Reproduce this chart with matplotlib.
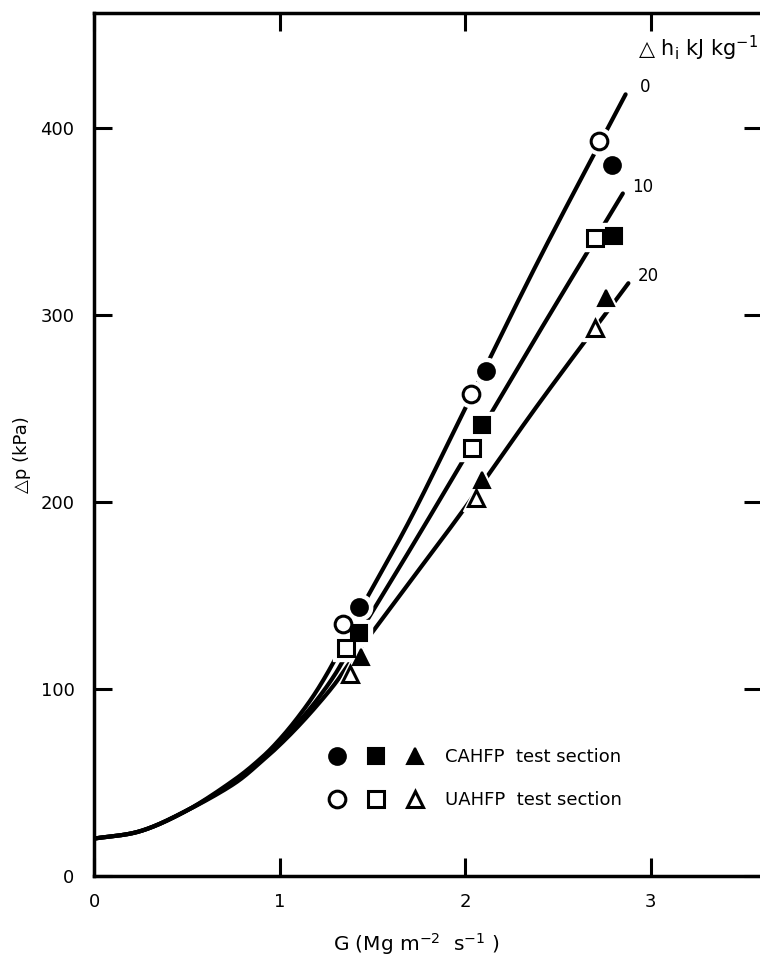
import numpy as np
import matplotlib
matplotlib.use("Agg")
import matplotlib.pyplot as plt
from matplotlib.legend_handler import HandlerTuple

plt.rcParams['font.family'] = ['DejaVu Sans']
plt.rcParams['mathtext.default'] = 'regular'

# ---- data ----
enthalpy_labels = ["0", "10", "20"]

# fitted curves (G in Mg m^-2 s^-1, dp in kPa)
curve_G_0 = [0, 0.25, 0.5, 0.75, 0.9, 1.0, 1.1, 1.2, 1.3, 1.4, 1.7, 2.0, 2.4, 2.865]
curve_dp_0 = [20, 24, 35, 51, 63, 73, 85, 99, 116, 136, 190, 250, 330, 418]
curve_G_10 = [0, 0.25, 0.5, 0.75, 0.9, 1.0, 1.1, 1.2, 1.3, 1.4, 1.7, 2.0, 2.4, 2.85]
curve_dp_10 = [20, 24, 35, 50, 62, 71, 82, 94, 108, 125, 174, 224, 291, 365]
curve_G_20 = [0, 0.25, 0.5, 0.75, 0.9, 1.0, 1.1, 1.2, 1.3, 1.4, 1.7, 2.0, 2.4, 2.88]
curve_dp_20 = [20, 24, 35, 49, 61, 70, 80, 91, 103, 117, 157, 197, 253, 317]

# CAHFP test section (filled markers)
cahfp_G_0 = [1.43, 2.11, 2.79]
cahfp_dp_0 = [144, 270, 380]
cahfp_G_10 = [1.43, 2.09, 2.80]
cahfp_dp_10 = [130, 241, 342]
cahfp_G_20 = [1.44, 2.09, 2.76]
cahfp_dp_20 = [117, 212, 309]

# UAHFP test section (open markers)
uahfp_G_0 = [1.34, 2.03, 2.72]
uahfp_dp_0 = [135, 258, 393]
uahfp_G_10 = [1.36, 2.035, 2.70]
uahfp_dp_10 = [122, 229, 341]
uahfp_G_20 = [1.38, 2.06, 2.70]
uahfp_dp_20 = [108, 202, 293]

x_ticks = [0, 1, 2, 3]
y_ticks = [0, 100, 200, 300, 400]
legend_labels = ["CAHFP  test section", "UAHFP  test section"]


def smooth(xs, ys, n=30):
    p = np.column_stack([xs, ys]).astype(float)
    m = np.zeros_like(p)
    m[1:-1] = (p[2:] - p[:-2]) / 2.0
    m[0] = p[1] - p[0]
    m[-1] = p[-1] - p[-2]
    out = []
    t = np.linspace(0, 1, n)
    h00 = 2 * t**3 - 3 * t**2 + 1
    h10 = t**3 - 2 * t**2 + t
    h01 = -2 * t**3 + 3 * t**2
    h11 = t**3 - t**2
    for i in range(len(p) - 1):
        seg = (h00[:, None] * p[i] + h10[:, None] * m[i]
               + h01[:, None] * p[i + 1] + h11[:, None] * m[i + 1])
        out.append(seg if i == 0 else seg[1:])
    out = np.vstack(out)
    return out[:, 0], out[:, 1]


fig = plt.figure(figsize=(7.6, 9.65), dpi=100)
L, R, B, T = 94, 762, 876, 13
ax = fig.add_axes([L / 760, (965 - B) / 965, (R - L) / 760, (B - T) / 965])
ax.set_xlim(0, 3.6)
ax.set_ylim(0, 461.5)

curves = [(curve_G_0, curve_dp_0), (curve_G_10, curve_dp_10), (curve_G_20, curve_dp_20)]
for (g, d), lab in zip(curves, enthalpy_labels):
    xs, ys = smooth(g, d)
    ax.plot(xs, ys, color='black', lw=3.0, solid_capstyle='round', zorder=2)
    ax.annotate(lab, xy=(g[-1], d[-1]), xytext=(14, 5), textcoords='offset points',
                ha='center', va='center', fontsize=12)

ms = 12
filled = [(cahfp_G_0, cahfp_dp_0, 'o'), (cahfp_G_10, cahfp_dp_10, 's'), (cahfp_G_20, cahfp_dp_20, '^')]
opened = [(uahfp_G_0, uahfp_dp_0, 'o'), (uahfp_G_10, uahfp_dp_10, 's'), (uahfp_G_20, uahfp_dp_20, '^')]
for g, d, mk in filled + opened:
    ax.plot(g, d, ls='none', marker=mk, ms=ms + 7, mfc='white', mec='white', zorder=3)
handles_f = []
handles_o = []
for g, d, mk in filled:
    h, = ax.plot(g, d, ls='none', marker=mk, ms=ms, mfc='black', mec='black', mew=1.5, zorder=4)
    handles_f.append(h)
for g, d, mk in opened:
    h, = ax.plot(g, d, ls='none', marker=mk, ms=ms, mfc='white', mec='black', mew=2.2, zorder=5)
    handles_o.append(h)

ax.set_xticks(x_ticks)
ax.set_xticklabels([str(v) for v in x_ticks])
ax.set_yticks(y_ticks)
ax.set_yticklabels([str(v) for v in y_ticks])
ax.tick_params(axis='both', direction='in', length=13, width=2.2, labelsize=13,
               top=True, right=True, labeltop=False, labelright=False)
ax.tick_params(axis='x', pad=12)
ax.tick_params(axis='y', pad=14)
for s in ['left', 'bottom', 'top', 'right']:
    ax.spines[s].set_linewidth(2.5)

fig.text(22 / 760, 1 - 455 / 965, "\u25b3p (kPa)", rotation=90, ha='center', va='center', fontsize=13)
fig.text(416 / 760, 1 - 944 / 965, "G (Mg m$^{-2}$  s$^{-1}$ )", ha='center', va='center', fontsize=14.5)
fig.text(758 / 760, 1 - 48 / 965, "\u25b3 h$_{i}$ kJ kg$^{-1}$", ha='right', va='center', fontsize=15)

leg = ax.legend([tuple(handles_f), tuple(handles_o)], legend_labels,
                handler_map={tuple: HandlerTuple(ndivide=None, pad=0.0)},
                loc='upper left', bbox_to_anchor=(317 / 760, 1 - 748 / 965),
                bbox_transform=fig.transFigure, frameon=False, fontsize=13,
                handlelength=6.5, handletextpad=0.6, labelspacing=1.4,
                borderpad=0, borderaxespad=0)

fig.savefig("out.png", dpi=100)
